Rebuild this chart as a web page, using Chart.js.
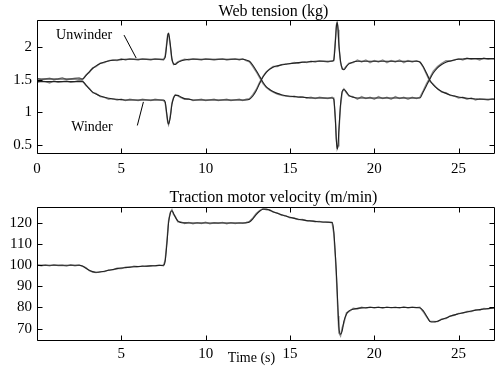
<!DOCTYPE html>
<html>
<head>
<meta charset="utf-8">
<script src="https://cdn.jsdelivr.net/npm/chart.js@4.4.1/dist/chart.umd.min.js"></script>
<style>
  html, body { margin: 0; padding: 0; background: #fff; }
  #fig { position: relative; width: 495px; height: 371px; overflow: hidden; }
  .panel { position: absolute; left: 0; width: 495px; }
  #tension-wrap { top: 0; height: 185px; }
  #velocity-wrap { top: 185px; height: 186px; }
</style>
</head>
<body>
<div id="fig">
  <div class="panel" id="tension-wrap"><canvas id="tension-chart"></canvas></div>
  <div class="panel" id="velocity-wrap"><canvas id="velocity-chart"></canvas></div>
</div>
<script>
// sample times (s), shared by every series
const timeS = [
  0, 0.25, 0.5, 0.75, 1, 1.25, 1.5, 1.75, 2, 2.25, 2.5,
  2.7, 2.9, 3.1, 3.3, 3.5, 3.75, 4, 4.25, 4.5, 4.75, 5, 5.25, 5.5, 5.75, 6, 6.25, 6.5, 6.75, 7, 7.25, 7.5,
  7.6, 7.7, 7.75, 7.8, 7.9, 8, 8.1, 8.2, 8.35, 8.5,
  8.75, 9, 9.25, 9.5, 9.75, 10, 10.25, 10.5, 10.75, 11, 11.25, 11.5, 11.75, 12,
  12.2, 12.4, 12.6, 12.8, 13, 13.2, 13.4, 13.6, 13.8, 14, 14.25, 14.5, 14.75, 15, 15.25, 15.5, 15.75, 16, 16.25, 16.5, 16.75, 17, 17.25, 17.5,
  17.6, 17.7, 17.75, 17.8, 17.85, 17.9, 18, 18.1, 18.2, 18.35, 18.5,
  18.75, 19, 19.25, 19.5, 19.75, 20, 20.25, 20.5, 20.75, 21, 21.25, 21.5, 21.75, 22, 22.25, 22.5,
  22.7, 22.9, 23.1, 23.3, 23.5, 23.75, 24, 24.25, 24.5, 24.75, 25, 25.25, 25.5, 25.75, 26, 26.25, 26.5, 26.75, 27, 27.2,
];

// web tension (kg) - smooth model curves
const unwinderModel = [
  1.51, 1.51, 1.51, 1.51, 1.51, 1.51, 1.51, 1.51, 1.51, 1.51, 1.51,
  1.51, 1.56, 1.62, 1.67, 1.71, 1.745, 1.77, 1.785, 1.795, 1.80, 1.805, 1.81, 1.81, 1.81, 1.81, 1.81, 1.81, 1.81, 1.81, 1.81, 1.81,
  1.84, 2.05, 2.17, 2.21, 2.05, 1.82, 1.74, 1.73, 1.76, 1.78,
  1.80, 1.81, 1.81, 1.81, 1.81, 1.81, 1.81, 1.81, 1.81, 1.81, 1.81, 1.81, 1.81, 1.81,
  1.81, 1.80, 1.78, 1.72, 1.64, 1.55, 1.46, 1.39, 1.35, 1.32, 1.29, 1.27, 1.255, 1.245, 1.24, 1.235, 1.23, 1.225, 1.22, 1.22, 1.22, 1.22, 1.22, 1.22,
  1.20, 0.85, 0.58, 0.44, 0.50, 0.72, 1.12, 1.32, 1.35, 1.31, 1.26,
  1.23, 1.22, 1.22, 1.22, 1.22, 1.22, 1.22, 1.22, 1.22, 1.22, 1.22, 1.22, 1.22, 1.22, 1.22, 1.22,
  1.22, 1.31, 1.41, 1.51, 1.60, 1.68, 1.73, 1.765, 1.785, 1.80, 1.81, 1.815, 1.82, 1.82, 1.82, 1.82, 1.82, 1.82, 1.82, 1.82,
];
const winderModel = [
  1.47, 1.47, 1.47, 1.47, 1.47, 1.47, 1.47, 1.47, 1.47, 1.47, 1.47,
  1.47, 1.42, 1.36, 1.31, 1.28, 1.25, 1.23, 1.215, 1.205, 1.20, 1.195, 1.19, 1.19, 1.19, 1.19, 1.19, 1.19, 1.19, 1.19, 1.19, 1.19,
  1.16, 0.97, 0.87, 0.82, 0.92, 1.12, 1.22, 1.26, 1.26, 1.24,
  1.21, 1.20, 1.19, 1.19, 1.19, 1.19, 1.19, 1.19, 1.19, 1.19, 1.19, 1.19, 1.19, 1.19,
  1.19, 1.19, 1.20, 1.25, 1.33, 1.44, 1.54, 1.61, 1.66, 1.69, 1.71, 1.725, 1.735, 1.745, 1.75, 1.76, 1.765, 1.77, 1.775, 1.78, 1.78, 1.78, 1.78, 1.78,
  1.80, 2.10, 2.30, 2.37, 2.28, 2.05, 1.78, 1.67, 1.65, 1.70, 1.74,
  1.77, 1.78, 1.78, 1.78, 1.78, 1.78, 1.78, 1.78, 1.78, 1.78, 1.78, 1.78, 1.78, 1.78, 1.78, 1.78,
  1.77, 1.70, 1.60, 1.49, 1.42, 1.36, 1.32, 1.29, 1.265, 1.25, 1.235, 1.225, 1.215, 1.21, 1.205, 1.20, 1.20, 1.20, 1.20, 1.20,
];

// web tension (kg) - measured (grey, noisy)
const unwinderMeas = [
  1.52, 1.50, 1.51, 1.52, 1.50, 1.51, 1.53, 1.50, 1.51, 1.52, 1.53,
  1.50, 1.57, 1.61, 1.68, 1.70, 1.75, 1.76, 1.79, 1.80, 1.79, 1.82, 1.80, 1.82, 1.81, 1.80, 1.82, 1.81, 1.80, 1.82, 1.81, 1.80,
  1.86, 2.08, 2.19, 2.20, 2.02, 1.80, 1.73, 1.74, 1.77, 1.79,
  1.81, 1.80, 1.82, 1.81, 1.80, 1.82, 1.81, 1.80, 1.81, 1.82, 1.80, 1.81, 1.82, 1.80,
  1.82, 1.79, 1.77, 1.70, 1.62, 1.53, 1.44, 1.38, 1.34, 1.31, 1.28, 1.26, 1.25, 1.24, 1.245, 1.23, 1.24, 1.22, 1.23, 1.21, 1.23, 1.22, 1.21, 1.23,
  1.22, 0.88, 0.60, 0.45, 0.49, 0.70, 1.10, 1.31, 1.36, 1.30, 1.25,
  1.24, 1.20, 1.24, 1.21, 1.23, 1.20, 1.24, 1.21, 1.23, 1.20, 1.24, 1.21, 1.23, 1.20, 1.23, 1.21,
  1.23, 1.33, 1.44, 1.53, 1.63, 1.70, 1.75, 1.79, 1.78, 1.80, 1.82, 1.80, 1.83, 1.81, 1.82, 1.80, 1.83, 1.81, 1.82, 1.81,
];
const winderMeas = [
  1.46, 1.48, 1.47, 1.45, 1.48, 1.46, 1.47, 1.48, 1.46, 1.47, 1.49,
  1.48, 1.41, 1.37, 1.30, 1.29, 1.24, 1.23, 1.20, 1.21, 1.19, 1.20, 1.18, 1.20, 1.19, 1.18, 1.20, 1.19, 1.18, 1.20, 1.19, 1.18,
  1.15, 0.95, 0.85, 0.81, 0.94, 1.14, 1.23, 1.27, 1.25, 1.23,
  1.20, 1.21, 1.18, 1.19, 1.20, 1.18, 1.19, 1.20, 1.18, 1.19, 1.20, 1.18, 1.19, 1.20,
  1.18, 1.20, 1.21, 1.27, 1.35, 1.46, 1.55, 1.62, 1.66, 1.70, 1.70, 1.73, 1.74, 1.74, 1.76, 1.75, 1.77, 1.76, 1.78, 1.77, 1.79, 1.78, 1.77, 1.79,
  1.79, 2.13, 2.33, 2.38, 2.26, 2.02, 1.76, 1.66, 1.66, 1.71, 1.75,
  1.76, 1.80, 1.77, 1.80, 1.76, 1.79, 1.77, 1.80, 1.76, 1.79, 1.77, 1.80, 1.76, 1.79, 1.77, 1.79,
  1.77, 1.69, 1.58, 1.47, 1.43, 1.36, 1.31, 1.30, 1.26, 1.25, 1.22, 1.23, 1.20, 1.22, 1.19, 1.21, 1.20, 1.19, 1.21, 1.20,
];

// traction motor velocity (m/min)
const velocityModel = [
  100, 100, 100, 100, 100, 100, 100, 100, 100, 100, 100,
  99.6, 98.6, 97.6, 97.0, 96.7, 96.8, 97.2, 97.6, 98.0, 98.4, 98.7, 98.9, 99.1, 99.3, 99.4, 99.5, 99.6, 99.7, 99.8, 99.9, 100,
  102, 110, 115, 120, 124.5, 125.8, 124.5, 122.8, 121, 120.3,
  120.1, 120, 120, 120, 120, 120, 120, 120, 120, 120, 120, 120, 120, 120,
  120, 120.1, 120.5, 122, 124, 125.6, 126.5, 126.6, 126.0, 125.4, 124.6, 123.9, 123.3, 122.7, 122.2, 121.8, 121.5, 121.2, 121.0, 120.8, 120.6, 120.5, 120.4, 120.3,
  116, 104, 97, 88, 79, 71, 67.3, 69, 73.5, 76.8, 78.4,
  79.2, 79.6, 79.8, 79.9, 80, 80, 80, 80, 80, 80, 80, 80, 80, 80, 80, 80,
  79.9, 78.5, 76.0, 73.4, 73.1, 73.5, 74.3, 75.0, 75.8, 76.5, 77.0, 77.5, 77.9, 78.3, 78.7, 79.0, 79.3, 79.5, 79.7, 79.8,
];
const velocityMeas = [
  100.2, 99.8, 100.1, 99.7, 100.3, 99.9, 100.0, 99.6, 100.2, 99.8, 100.1,
  99.5, 98.9, 97.4, 96.8, 96.5, 97.0, 97.0, 97.8, 97.9, 98.6, 98.5, 99.1, 99.0, 99.5, 99.3, 99.7, 99.5, 99.8, 99.7, 100.1, 99.8,
  102.5, 111, 116, 121, 125, 126.3, 124, 123.2, 120.6, 120.6,
  119.8, 120.3, 119.7, 120.2, 119.8, 120.4, 119.6, 120.1, 119.9, 120.3, 119.7, 120.2, 119.8, 120.1,
  119.9, 120.3, 120.8, 122.4, 124.5, 125.9, 126.8, 126.3, 126.3, 125.2, 124.8, 123.7, 123.5, 122.5, 122.4, 121.6, 121.7, 121.0, 121.1, 120.6, 120.8, 120.3, 120.5, 120.1,
  115, 103, 95, 86, 76, 68, 66.5, 70.5, 72.5, 77.5, 78,
  79.6, 79.3, 80.1, 79.7, 80.3, 79.8, 80.2, 79.6, 80.3, 79.8, 80.1, 79.7, 80.4, 79.8, 80.2, 79.9,
  80.1, 78.0, 75.6, 73.5, 73.4, 73.3, 74.6, 74.8, 76.0, 76.3, 77.2, 77.3, 78.1, 78.1, 78.9, 78.8, 79.5, 79.3, 79.9, 79.7,
];

// axis ranges and ticks
const timeRange = [0, 27.1];
const timeTicks = [0, 5, 10, 15, 20, 25];
const tensionRange = [0.38, 2.41];
const tensionTicks = [0.5, 1, 1.5, 2];
const velocityRange = [64.6, 127.6];
const velocityTicks = [70, 80, 90, 100, 110, 120];

// callout leader lines [t, kg] and their label anchors
const unwinderLeader = [[5.16, 2.18], [5.88, 1.83]];
const winderLeader = [[5.95, 0.80], [6.31, 1.16]];
const unwinderLabel = ['Unwinder', 2.79, 2.18];
const winderLabel = ['Winder', 3.26, 0.765];

const SERIF = "'Liberation Serif', 'Times New Roman', serif";
const TICK_LEN = 5;

const toPoints = (ys) => ys.map((y, i) => ({ x: timeS[i], y }));
const pairPoints = (pairs) => pairs.map(([x, y]) => ({ x, y }));

// MATLAB-like boxed axes with inward ticks, plus free text
const matlabAxes = {
  id: 'matlabAxes',
  afterDraw(chart, args, opts) {
    const { ctx, chartArea: a, scales } = chart;
    const L = Math.round(a.left) + 0.5, R = Math.round(a.right) + 0.5;
    const T = Math.round(a.top) + 0.5, B = Math.round(a.bottom) + 0.5;
    ctx.save();
    ctx.strokeStyle = '#000';
    ctx.lineWidth = 1;
    ctx.beginPath();
    scales.x.ticks.forEach((t) => {
      const px = Math.round(scales.x.getPixelForValue(t.value)) + 0.5;
      ctx.moveTo(px, B); ctx.lineTo(px, B - TICK_LEN);
      ctx.moveTo(px, T); ctx.lineTo(px, T + TICK_LEN);
    });
    scales.y.ticks.forEach((t) => {
      const py = Math.round(scales.y.getPixelForValue(t.value)) + 0.5;
      ctx.moveTo(L, py); ctx.lineTo(L + TICK_LEN, py);
      ctx.moveTo(R, py); ctx.lineTo(R - TICK_LEN, py);
    });
    ctx.rect(L, T, R - L, B - T);
    ctx.stroke();

    ctx.fillStyle = '#000';
    ctx.textAlign = 'center';
    ctx.textBaseline = 'middle';
    (opts.texts || []).forEach((item) => {
      ctx.font = `${item.size}px ${SERIF}`;
      let x, y;
      if (item.data) {
        x = scales.x.getPixelForValue(item.x);
        y = scales.y.getPixelForValue(item.y);
      } else {
        x = (a.left + a.right) / 2 + item.dx;
        y = item.fromBottom ? a.bottom + item.dy : a.top + item.dy;
      }
      ctx.fillText(item.text, x, y);
    });
    ctx.restore();
  },
};

function lineSet(label, data, color, width, smooth) {
  return {
    label,
    data,
    borderColor: color,
    borderWidth: width,
    pointRadius: 0,
    fill: false,
    tension: 0,
    cubicInterpolationMode: smooth ? 'monotone' : 'default',
  };
}

function buildOptions(yRange, yTicks, xAxisHeight, topPad, xPad, texts, hideZero) {
  const tickFont = { family: SERIF, size: 15 };
  return {
    responsive: true,
    maintainAspectRatio: false,
    animation: false,
    layout: { padding: { top: topPad, right: 1, left: 0, bottom: 0 } },
    plugins: {
      legend: { display: false },
      tooltip: { enabled: false },
      matlabAxes: { texts },
    },
    scales: {
      x: {
        type: 'linear',
        min: timeRange[0],
        max: timeRange[1],
        grid: { display: false, drawTicks: false },
        border: { display: false },
        afterBuildTicks: (scale) => { scale.ticks = timeTicks.map((v) => ({ value: v })); },
        afterFit: (scale) => { scale.height = xAxisHeight; },
        ticks: {
          color: '#000',
          font: tickFont,
          padding: xPad,
          maxRotation: 0,
          autoSkip: false,
          callback: (v) => (hideZero && v === 0 ? '' : String(v)),
        },
      },
      y: {
        type: 'linear',
        min: yRange[0],
        max: yRange[1],
        grid: { display: false, drawTicks: false },
        border: { display: false },
        afterBuildTicks: (scale) => { scale.ticks = yTicks.map((v) => ({ value: v })); },
        afterFit: (scale) => { scale.width = 37; },
        ticks: {
          color: '#000',
          font: tickFont,
          padding: 5,
          autoSkip: false,
          callback: (v) => String(v),
        },
      },
    },
  };
}

const MODEL = '#222';
const MEAS = '#8c8c8c';

new Chart(document.getElementById('tension-chart'), {
  type: 'line',
  plugins: [matlabAxes],
  data: {
    datasets: [
      lineSet('Unwinder leader', pairPoints(unwinderLeader), '#000', 1, false),
      lineSet('Winder leader', pairPoints(winderLeader), '#000', 1, false),
      lineSet('Unwinder model', toPoints(unwinderModel), MODEL, 1.1, true),
      lineSet('Winder model', toPoints(winderModel), MODEL, 1.1, true),
      lineSet('Unwinder measured', toPoints(unwinderMeas), MEAS, 1.4, false),
      lineSet('Winder measured', toPoints(winderMeas), MEAS, 1.4, false),
    ],
  },
  options: buildOptions(tensionRange, tensionTicks, 32, 20, 7, [
    { text: 'Web tension (kg)', size: 16, dx: 8, dy: -8 },
    { text: unwinderLabel[0], size: 14, data: true, x: unwinderLabel[1], y: unwinderLabel[2] },
    { text: winderLabel[0], size: 14, data: true, x: winderLabel[1], y: winderLabel[2] },
  ], false),
});

new Chart(document.getElementById('velocity-chart'), {
  type: 'line',
  plugins: [matlabAxes],
  data: {
    datasets: [
      lineSet('Velocity model', toPoints(velocityModel), MODEL, 1.1, true),
      lineSet('Velocity measured', toPoints(velocityMeas), MEAS, 1.4, false),
    ],
  },
  options: buildOptions(velocityRange, velocityTicks, 31, 22, 5, [
    { text: 'Traction motor velocity (m/min)', size: 16, dx: 8, dy: -9 },
    { text: 'Time (s)', size: 14, dx: -14, dy: 18, fromBottom: true },
  ], true),
});
</script>
</body>
</html>
